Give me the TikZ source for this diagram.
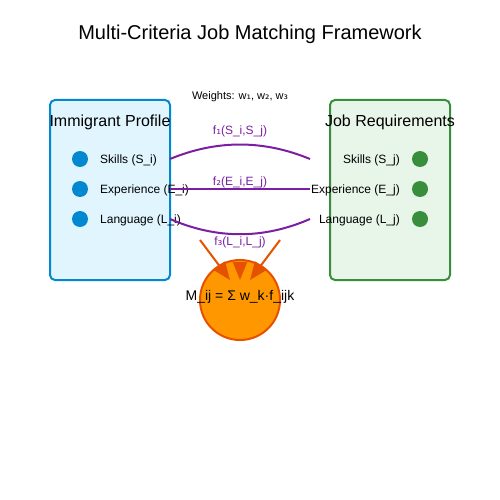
\documentclass[tikz,border=0pt]{standalone}
\usepackage{fontspec}
\setmainfont{Liberation Sans}
\newfontfamily\djv{DejaVu Sans}
\usetikzlibrary{arrows.meta}
\definecolor{lblue}{HTML}{E1F5FE}
\definecolor{dblue}{HTML}{0288D1}
\definecolor{lgreen}{HTML}{E8F5E9}
\definecolor{dgreen}{HTML}{388E3C}
\definecolor{purp}{HTML}{7B1FA2}
\definecolor{orng}{HTML}{FF9800}
\definecolor{dorng}{HTML}{E65100}
\tikzset{
  panel/.style={draw=#1, line width=2pt, rounded corners=5pt},
  dotnode/.style={circle, fill=#1, inner sep=0pt, minimum size=16pt},
  lbl/.style={font=\fontsize{12}{14}\selectfont, inner sep=0pt, anchor=base west},
  lblr/.style={font=\fontsize{12}{14}\selectfont, inner sep=0pt, anchor=base east},
  head/.style={font=\fontsize{16}{19}\selectfont, inner sep=0pt, anchor=base},
  flbl/.style={font=\fontsize{12}{14}\selectfont, text=purp, inner sep=0pt, anchor=base},
  link/.style={draw=purp, line width=2pt},
  feed/.style={draw=dorng, line width=2pt, -{Triangle[length=18pt,width=14pt]}}
}
\begin{document}
\begin{tikzpicture}[x=1pt,y=-1pt]
\useasboundingbox[fill=white] (0,0) rectangle (500,500);
% title
\node[font=\fontsize{20}{24}\selectfont, inner sep=0pt, anchor=base] (title) at (250,40) {Multi-Criteria Job Matching Framework};
% panels
\draw[panel=dblue, fill=lblue] (50,100) rectangle (170,280);
\draw[panel=dgreen, fill=lgreen] (330,100) rectangle (450,280);
\node[head] (imm) at (110,126) {Immigrant Profile};
\node[head] (job) at (390,126) {Job Requirements};
% left items
\node[dotnode=dblue] (ls) at (80,159) {};
\node[dotnode=dblue] (le) at (80,189) {};
\node[dotnode=dblue] (ll) at (80,219) {};
\node[lbl] (lst) at (100,163) {Skills (S\_i)};
\node[lbl] (let) at (100,193) {Experience (E\_i)};
\node[lbl] (llt) at (100,223) {Language (L\_i)};
% right items
\node[dotnode=dgreen] (rs) at (420,159) {};
\node[dotnode=dgreen] (re) at (420,189) {};
\node[dotnode=dgreen] (rl) at (420,219) {};
\node[lblr] (rst) at (400,163) {Skills (S\_j)};
\node[lblr] (ret) at (400,193) {Experience (E\_j)};
\node[lblr] (rlt) at (400,223) {Language (L\_j)};
% link endpoints
\coordinate (a1) at (170,159); \coordinate (b1) at (310,159);
\coordinate (a2) at (170,189); \coordinate (b2) at (310,189);
\coordinate (a3) at (170,219); \coordinate (b3) at (310,219);
\draw[link] (a1) .. controls (216.7,139.7) and (263.3,139.7) .. (b1);
\draw[link] (a2) -- (b2);
\draw[link] (a3) .. controls (216.7,239.3) and (263.3,239.3) .. (b3);
% labels
\node[font=\fontsize{11}{13}\selectfont, inner sep=0pt, anchor=base] (wts) at (240,100) {Weights: w{\djv ₁}, w{\djv ₂}, w{\djv ₃}};
\node[flbl] (f1) at (240,135) {f{\djv ₁}(S\_i,S\_j)};
\node[flbl] (f2) at (240,185) {f{\djv ₂}(E\_i,E\_j)};
\node[flbl] (f3) at (240,245) {f{\djv ₃}(L\_i,L\_j)};
% aggregation
\node[circle, draw=dorng, line width=2pt, fill=orng, minimum size=80pt, inner sep=0pt] (agg) at (240,300) {};
\coordinate (s1) at (200,240); \coordinate (t1) at (230,280);
\coordinate (s2) at (240,262); \coordinate (t2) at (240,280);
\coordinate (s3) at (280,240); \coordinate (t3) at (250,280);
\draw[feed] (s1) -- (t1);
\draw[feed] (s2) -- (t2);
\draw[feed] (s3) -- (t3);
\node[font=\fontsize{14}{17}\selectfont, inner sep=0pt, anchor=base] (mij) at (240,300) {M\_ij = Σ w\_k·f\_ijk};
\end{tikzpicture}
\end{document}
